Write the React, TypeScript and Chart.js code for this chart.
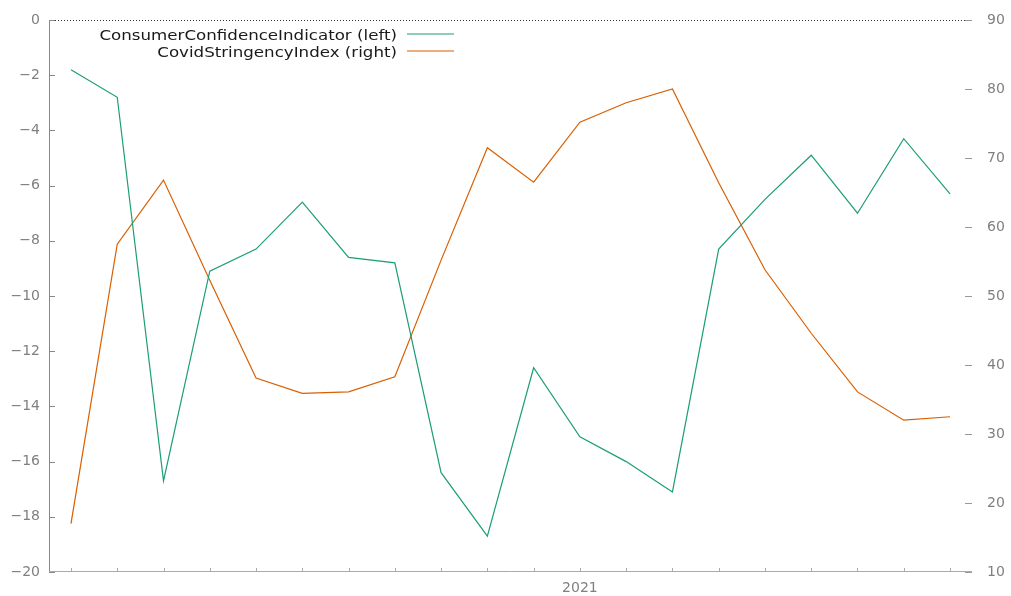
import React, { useEffect, useRef } from "react";
import { Chart, registerables } from "chart.js";

Chart.register(...registerables);

const months = [
  "2020-02", "2020-03", "2020-04", "2020-05", "2020-06", "2020-07", "2020-08",
  "2020-09", "2020-10", "2020-11", "2020-12", "2021-01", "2021-02", "2021-03",
  "2021-04", "2021-05", "2021-06", "2021-07", "2021-08", "2021-09",
];
const consumerConfidence = [
  -1.8, -2.8, -16.7, -9.1, -8.3, -6.6, -8.6, -8.8, -16.4, -18.7,
  -12.6, -15.1, -16.0, -17.1, -8.3, -6.5, -4.9, -7.0, -4.3, -6.3,
];
const covidStringency = [
  17.0, 57.5, 66.8, 52.3, 38.1, 35.9, 36.1, 38.3, 55.2, 71.5,
  66.5, 75.2, 78.0, 80.0, 66.4, 53.8, 44.6, 36.1, 32.0, 32.5,
];
const seriesNames = ["ConsumerConfidenceIndicator (left)", "CovidStringencyIndex (right)"];
const seriesColors = ["#1b9e77", "#d95f02"];
const leftTicks = [0, -2, -4, -6, -8, -10, -12, -14, -16, -18, -20];
const rightTicks = [10, 20, 30, 40, 50, 60, 70, 80, 90];

const FONT = '"DejaVu Sans", Verdana, sans-serif';

const axisPlugin = {
  id: "gnuplotAxes",
  afterDraw(chart: any) {
    const ctx = chart.ctx;
    const { left, right, top, bottom } = chart.chartArea;
    const x = chart.scales.x;
    const yl = chart.scales.y;
    const yr = chart.scales.y1;
    ctx.save();
    // top dotted border
    ctx.strokeStyle = "#333";
    ctx.lineWidth = 1;
    ctx.setLineDash([1, 2]);
    ctx.beginPath();
    ctx.moveTo(left, top + 0.5);
    ctx.lineTo(right, top + 0.5);
    ctx.stroke();
    ctx.setLineDash([]);
    // left axis
    ctx.strokeStyle = "#888";
    ctx.beginPath();
    ctx.moveTo(left + 0.5, top);
    ctx.lineTo(left + 0.5, bottom);
    ctx.stroke();
    leftTicks.forEach((v) => {
      const py = Math.round(yl.getPixelForValue(v)) + 0.5;
      ctx.beginPath();
      ctx.moveTo(left, py);
      ctx.lineTo(left + 6, py);
      ctx.stroke();
    });
    // bottom axis
    ctx.strokeStyle = "#aaa";
    ctx.beginPath();
    ctx.moveTo(left, bottom - 0.5);
    ctx.lineTo(right, bottom - 0.5);
    ctx.stroke();
    months.forEach((_, i) => {
      const px = Math.round(x.getPixelForValue(i)) + 0.5;
      ctx.beginPath();
      ctx.moveTo(px, bottom);
      ctx.lineTo(px, bottom - 4);
      ctx.stroke();
    });
    ctx.strokeStyle = "#999";
    rightTicks.forEach((v) => {
      const py = Math.round(yr.getPixelForValue(v)) + 0.5;
      ctx.beginPath();
      ctx.moveTo(right - 7, py);
      ctx.lineTo(right, py);
      ctx.stroke();
    });
    // legend
    ctx.font = `14px ${FONT}`;
    ctx.fillStyle = "#1a1a1a";
    ctx.textAlign = "right";
    ctx.textBaseline = "alphabetic";
    seriesNames.forEach((name, i) => {
      const baseY = 39.5 + i * 17;
      ctx.save();
      ctx.translate(397, baseY);
      ctx.scale(1.19, 1);
      ctx.fillText(name, 0, 0);
      ctx.restore();
      ctx.strokeStyle = seriesColors[i];
      ctx.lineWidth = 1.2;
      ctx.beginPath();
      ctx.moveTo(407, baseY - 5.5);
      ctx.lineTo(454, baseY - 5.5);
      ctx.stroke();
    });
    ctx.restore();
  },
};

const zeroPad = (s: any) => {
  s.paddingTop = 0;
  s.paddingBottom = 0;
  s.paddingLeft = 0;
  s.paddingRight = 0;
};

export default function App() {
  const ref = useRef<HTMLCanvasElement>(null);
  useEffect(() => {
    if (!ref.current) return;
    const xs = months.map((_, i) => i);
    const chart = new Chart(ref.current, {
      type: "line",
      data: {
        datasets: [
          {
            label: seriesNames[0],
            data: consumerConfidence.map((v, i) => ({ x: xs[i], y: v })),
            borderColor: seriesColors[0],
            borderWidth: 1.2,
            pointRadius: 0,
            pointHoverRadius: 0,
            yAxisID: "y",
            tension: 0,
          },
          {
            label: seriesNames[1],
            data: covidStringency.map((v, i) => ({ x: xs[i], y: v })),
            borderColor: seriesColors[1],
            borderWidth: 1.2,
            pointRadius: 0,
            pointHoverRadius: 0,
            yAxisID: "y1",
            tension: 0,
          },
        ],
      },
      options: {
        animation: false,
        responsive: false,
        maintainAspectRatio: false,
        layout: { autoPadding: false, padding: { top: 20, left: 0, right: 0, bottom: 0 } },
        plugins: { legend: { display: false }, tooltip: { enabled: false } },
        scales: {
          x: {
            type: "linear",
            min: -0.475,
            max: 19.475,
            grid: { display: false, drawTicks: false },
            border: { display: false },
            afterBuildTicks: (s: any) => {
              s.ticks = xs.map((v) => ({ value: v }));
            },
            afterFit: (s: any) => {
              s.height = 24;
              zeroPad(s);
            },
            ticks: {
              autoSkip: false,
              maxRotation: 0,
              padding: 8,
              color: "#808080",
              font: { family: FONT, size: 14 },
              callback: (v: any) => {
                const m = months[Math.round(Number(v))];
                return m && m.endsWith("-01") ? m.slice(0, 4) : "";
              },
            },
          },
          y: {
            position: "left",
            min: -20,
            max: 0,
            grid: { display: false, drawTicks: false },
            border: { display: false },
            afterBuildTicks: (s: any) => {
              s.ticks = leftTicks.map((v) => ({ value: v }));
            },
            afterFit: (s: any) => {
              s.width = 49;
              zeroPad(s);
            },
            ticks: {
              padding: 9,
              color: "#808080",
              font: { family: FONT, size: 14 },
              callback: (v: any) => String(v).replace("-", "\u2212"),
            },
          },
          y1: {
            position: "right",
            min: 10,
            max: 90,
            grid: { display: false, drawTicks: false },
            border: { display: false },
            afterBuildTicks: (s: any) => {
              s.ticks = rightTicks.map((v) => ({ value: v }));
            },
            afterFit: (s: any) => {
              s.width = 39;
              zeroPad(s);
            },
            ticks: {
              padding: 15,
              color: "#808080",
              font: { family: FONT, size: 14 },
            },
          },
        },
      },
      plugins: [axisPlugin],
    });
    return () => chart.destroy();
  }, []);
  return (
    <div style={{ position: "fixed", left: 0, top: 0, width: 1011, height: 596, background: "#fff" }}>
      <canvas ref={ref} width={1011} height={596} style={{ width: 1011, height: 596 }} />
    </div>
  );
}
